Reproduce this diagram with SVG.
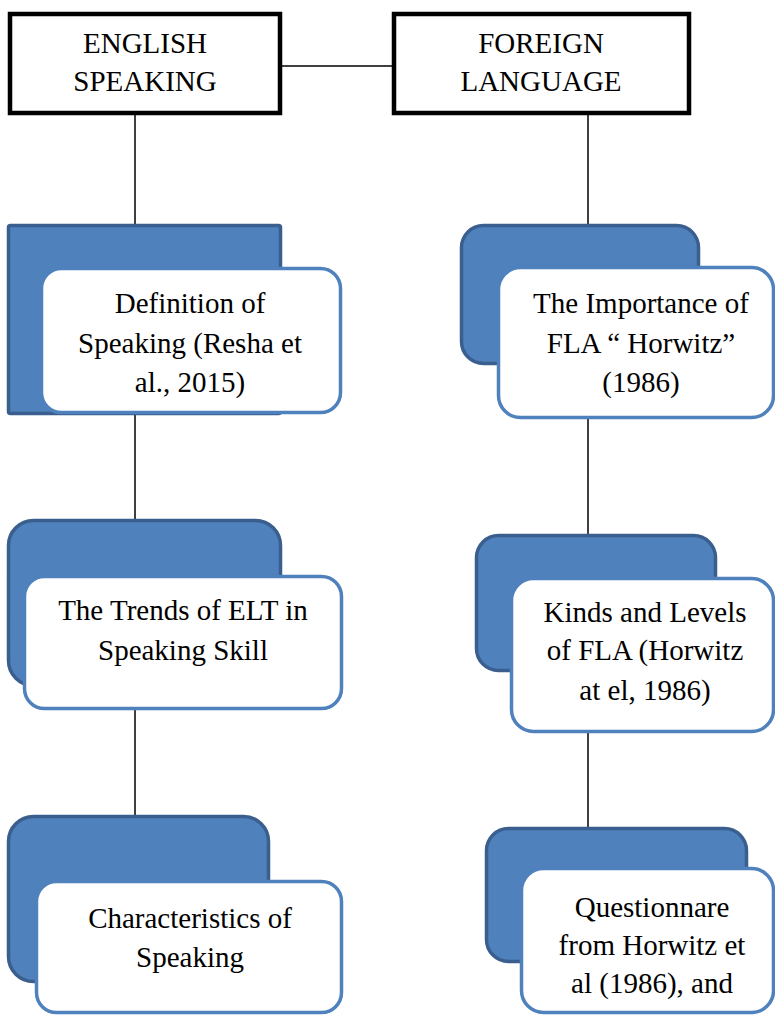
<svg xmlns="http://www.w3.org/2000/svg" width="775" height="1015" viewBox="0 0 775 1015">
<style>
.top{fill:#fff;stroke:#000;stroke-width:4.5}
.back{fill:#4F81BD;stroke:#3A5F8E;stroke-width:3.5}
.front{fill:#fff;stroke:#4F81BD;stroke-width:3.5}
.t{font-family:'Liberation Serif',serif;font-size:29px;fill:#000;text-anchor:middle}
.c{stroke:#000;stroke-width:1.5;fill:none}
</style>
<rect width="775" height="1015" fill="#fff"/>
<g id="connectors">
<line class="c" x1="282" y1="66" x2="392" y2="66"/>
<line class="c" x1="135" y1="115" x2="135" y2="226"/>
<line class="c" x1="135" y1="414" x2="135" y2="520"/>
<line class="c" x1="135" y1="710" x2="135" y2="816"/>
<line class="c" x1="588" y1="115" x2="588" y2="225"/>
<line class="c" x1="588" y1="419" x2="588" y2="535"/>
<line class="c" x1="588" y1="733" x2="588" y2="828"/>
</g>
<g id="english-speaking">
<rect class="top" x="10" y="14" width="270" height="99"/>
<text class="t" x="145" y="53">ENGLISH</text>
<text class="t" x="145" y="91">SPEAKING</text>
</g>
<g id="foreign-language">
<rect class="top" x="394" y="14" width="295" height="99"/>
<text class="t" x="541" y="53">FOREIGN</text>
<text class="t" x="541" y="91">LANGUAGE</text>
</g>
<g id="definition">
<rect class="back" x="8.5" y="225.5" width="272" height="188" rx="2"/>
<rect class="front" x="41.5" y="268.5" width="299" height="144" rx="20"/>
<text class="t" x="190" y="313">Definition of</text>
<text class="t" x="190" y="353">Speaking (Resha et</text>
<text class="t" x="190" y="392">al., 2015)</text>
</g>
<g id="trends">
<rect class="back" x="8.5" y="520.5" width="272" height="165" rx="25"/>
<rect class="front" x="24.5" y="576.5" width="317" height="132" rx="20"/>
<text class="t" x="183" y="620">The Trends of ELT in</text>
<text class="t" x="183" y="660">Speaking Skill</text>
</g>
<g id="characteristics">
<rect class="back" x="8.5" y="816.5" width="260" height="165" rx="25"/>
<rect class="front" x="36.5" y="881.5" width="305" height="131" rx="20"/>
<text class="t" x="190" y="928">Characteristics of</text>
<text class="t" x="190" y="967">Speaking</text>
</g>
<g id="importance">
<rect class="back" x="461.5" y="225.5" width="237" height="138" rx="22"/>
<rect class="front" x="498.5" y="267.5" width="275" height="150" rx="22"/>
<text class="t" x="641" y="313">The Importance of</text>
<text class="t" x="641" y="353">FLA “ Horwitz”</text>
<text class="t" x="641" y="392">(1986)</text>
</g>
<g id="kinds">
<rect class="back" x="476.5" y="535.5" width="239" height="135" rx="22"/>
<rect class="front" x="511.5" y="578.5" width="262" height="153" rx="22"/>
<text class="t" x="645" y="622">Kinds and Levels</text>
<text class="t" x="645" y="660">of FLA (Horwitz</text>
<text class="t" x="645" y="700">at el, 1986)</text>
</g>
<g id="questionnare">
<rect class="back" x="486.5" y="828.5" width="260" height="133" rx="22"/>
<rect class="front" x="521.5" y="868.5" width="252" height="144" rx="22"/>
<text class="t" x="652" y="917">Questionnare</text>
<text class="t" x="652" y="955">from Horwitz et</text>
<text class="t" x="652" y="993">al (1986), and</text>
</g>
</svg>
